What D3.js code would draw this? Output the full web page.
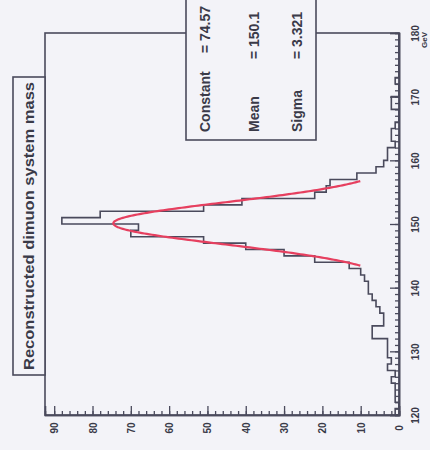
<!DOCTYPE html>
<html><head><meta charset="utf-8">
<script src="https://cdn.jsdelivr.net/npm/d3@7"></script>
<style>
html,body{margin:0;padding:0;background:#f3f3f8;}
svg{display:block;}
text{font-family:"Liberation Sans",Arial,sans-serif;font-weight:bold;fill:#3a3a48;}
</style></head>
<body>
<script>
// ---- data ----
const binLow = d3.range(120, 180, 1);          // bin lower edges (GeV), 1 GeV bins
const counts = [1,0,1,1,1,2,1,3,2,3,
                3,3,7,7,4,4,5,6,7,8,
                8,9,10,13,22,30,40,51,70,68,
                88,78,51,41,22,19,18,11,6,4,
                3,3,1,2,2,1,0,0,2,2,
                0,0,1,0,0,0,0,0,0,0];
const massTicks = [120,130,140,150,160,170,180];
const countTicks = [0,10,20,30,40,50,60,70,80,90];
const fitParams = {constant:74.57, mean:150.1, sigma:3.321};
const fitRange = [143.46, 156.74];
const titleText = "Reconstructed dimuon system mass";
const statNames = ["Constant","Mean","Sigma"];
const statValues = ["= 74.57","= 150.1","= 3.321"];

// ---- layout (chart drawn rotated: mass runs bottom->top on the right, counts right->left) ----
const W = 430, H = 450;
const frame = {left:45, right:399, top:33, bottom:415};
const ink = "#4a4a5c";

const svg = d3.select("body").append("svg").attr("width",W).attr("height",H);

const yMass = d3.scaleLinear().domain([120,180]).range([frame.bottom, frame.top]);
const xCount = d3.scaleLinear().domain([0, 92.4]).range([frame.right, frame.left]);

// frame
svg.append("rect").attr("x",frame.left).attr("y",frame.top)
  .attr("width",frame.right-frame.left).attr("height",frame.bottom-frame.top)
  .attr("fill","#f3f3f8").attr("stroke",ink).attr("stroke-width",1.6);

// histogram outline
const pts = [[0,120]];
binLow.forEach((lo,i)=>{ pts.push([counts[i],lo]); pts.push([counts[i],lo+1]); });
pts.push([0,180]);
const line = d3.line().x(d=>xCount(d[0])).y(d=>yMass(d[1])).curve(d3.curveLinear);
svg.append("path").attr("d",line(pts)).attr("fill","none")
  .attr("stroke",ink).attr("stroke-width",1.6);

// gaussian fit curve
const g = m => fitParams.constant*Math.exp(-0.5*Math.pow((m-fitParams.mean)/fitParams.sigma,2));
const fitPts = d3.range(0,201).map(k=>{const m=fitRange[0]+(fitRange[1]-fitRange[0])*k/200; return [g(m),m];});
svg.append("path").attr("d",line(fitPts)).attr("fill","none")
  .attr("stroke","#e63f5f").attr("stroke-width",2.2);

// right axis (mass)
const rAxisMinor = d3.axisRight(yMass).ticks(60).tickSize(-4).tickFormat("");
const rAxis = d3.axisRight(yMass).tickValues(massTicks).tickSize(-9).tickPadding(0).tickFormat(d3.format("d"));
const ra1 = svg.append("g").attr("transform",`translate(${frame.right},0)`).call(rAxisMinor);
const ra = svg.append("g").attr("transform",`translate(${frame.right},0)`).call(rAxis);
[ra1,ra].forEach(a=>{a.select(".domain").attr("stroke",ink).attr("stroke-width",1.6);
  a.selectAll("line").attr("stroke",ink).attr("stroke-width",1.3);});
ra.selectAll("text").attr("x",null).attr("dy","0.35em").attr("text-anchor","middle")
  .attr("transform","translate(16,0) rotate(-90)")
  .style("font-size","10px").style("font-family","Liberation Sans, Arial, sans-serif").style("font-weight","bold").attr("fill","#3a3a48");

// bottom axis (counts)
const bAxisMinor = d3.axisBottom(xCount).tickValues(d3.range(0,92,2)).tickSize(-4).tickFormat("");
const bAxis = d3.axisBottom(xCount).tickValues(countTicks).tickSize(-9).tickPadding(0).tickFormat(d3.format("d"));
const ba1 = svg.append("g").attr("transform",`translate(0,${frame.bottom})`).call(bAxisMinor);
const ba = svg.append("g").attr("transform",`translate(0,${frame.bottom})`).call(bAxis);
[ba1,ba].forEach(a=>{a.select(".domain").attr("stroke",ink).attr("stroke-width",1.6);
  a.selectAll("line").attr("stroke",ink).attr("stroke-width",1.3);});
ba.selectAll("text").attr("y",null).attr("dy","0.35em").attr("text-anchor","middle")
  .attr("transform","translate(0,13) rotate(-90)")
  .style("font-size","10px").style("font-family","Liberation Sans, Arial, sans-serif").style("font-weight","bold").attr("fill","#3a3a48");

// axis unit
svg.append("text").attr("transform","translate(424,40) rotate(-90)").attr("text-anchor","middle")
  .attr("dy","0.35em").style("font-size","8px").text("GeV");

// title box
svg.append("rect").attr("x",13).attr("y",77).attr("width",32).attr("height",298)
  .attr("fill","#f3f3f8").attr("stroke",ink).attr("stroke-width",1.6);
svg.append("text").attr("transform","translate(29,226) rotate(-90)")
  .attr("text-anchor","middle").attr("dy","0.36em")
  .attr("textLength",288).attr("lengthAdjust","spacingAndGlyphs")
  .style("font-size","15px").text(titleText);

// stats box
svg.append("rect").attr("x",186).attr("y",-2).attr("width",130).attr("height",142)
  .attr("fill","#f3f3f8").attr("stroke",ink).attr("stroke-width",1.6);
const statX = [205,254,297];
statNames.forEach((n,i)=>{
  svg.append("text").attr("transform",`translate(${statX[i]},132) rotate(-90)`)
    .attr("text-anchor","start").attr("dy","0.36em")
    .style("font-size","14px").text(n);
  svg.append("text").attr("transform",`translate(${statX[i]},${i===0?6:12}) rotate(-90)`)
    .attr("text-anchor","end").attr("dy","0.36em")
    .style("font-size","14px").text(statValues[i]);
});
</script>
</body></html>
